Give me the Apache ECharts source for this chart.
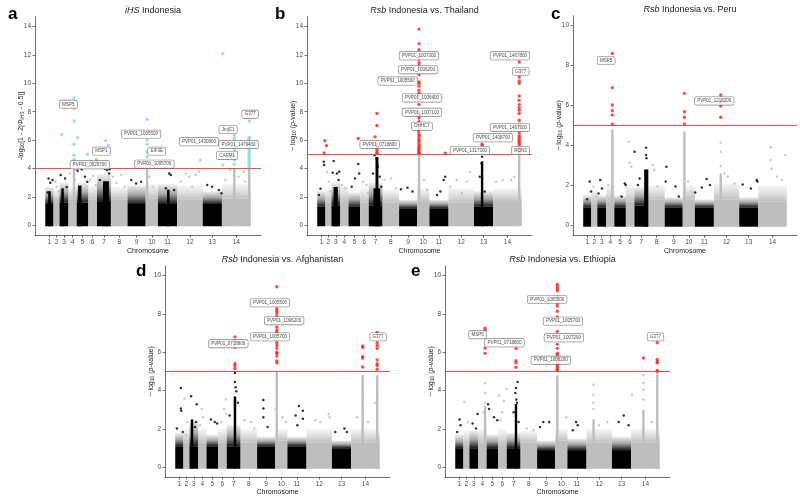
<!DOCTYPE html>
<html><head><meta charset="utf-8">
<script src="https://cdn.jsdelivr.net/npm/echarts@6/dist/echarts.min.js"></script>
<style>html,body{margin:0;padding:0;background:#fff}#c{width:800px;height:497px}</style>
</head><body><div id="c"></div>
<script>
const chromosomes = ['1','2','3','4','5','6','7','8','9','10','11','12','13','14'];
const chromLengths = [0.98,0.71,1.06,0.98,1.38,1.03,1.65,1.97,2.16,1.45,2.28,3.03,2.28,3.42];
const yTicksBig = [0,2,4,6,8,10,12,14];
const yTicksSmall = [0,2,4,6,8,10];

// ---- Panel a : iHS Indonesia ----
const denseA = [1.5,1.7,1.6,1.8,1.6,1.8,1.7,1.8,1.5,1.9,1.5,1.8,1.5,1.9];
const spreadA = [2.7,2.5,3.0,2.7,3.0,2.8,3.6,2.7,2.8,2.9,2.9,2.8,2.4,2.9];
const colsA = [[0.5,0.3,2.4],[2.05,0.3,2.6],[4.1,0.4,2.8],[7.2,0.7,3.1],[14.6,0.3,2.5],[3.41,0.1,4.0],[12.08,0.12,4.0],[22.43,0.12,4.0],[24.2,0.15,4.0]];
const bgA = [[0.39,3.3],[0.86,3.18],[0.59,3.0],[0.27,2.3],[1.18,3.07],[1.37,2.72],[1.57,2.37],[1.84,3.54],[2.35,3.3],[2.55,2.7],[2.94,3.65],[3.53,3.18],[3.65,3.95],[3.84,3.84],[4.31,3.95],[4.71,3.42],[4.98,3.07],[5.29,3.18],[5.69,3.47],[6.0,2.83],[6.47,3.18],[7.06,3.98],[7.33,3.89],[7.57,3.65],[7.65,3.95],[8.04,3.42],[8.43,3.0],[9.02,3.54],[9.41,2.72],[10.2,3.18],[10.78,2.95],[11.37,3.07],[12.35,3.42],[12.75,2.72],[14.7,3.65],[14.9,3.54],[14.31,2.6],[15.29,2.48],[16.08,3.07],[16.67,3.65],[17.06,3.42],[17.84,3.54],[18.24,3.77],[17.45,2.72],[19.22,2.83],[19.8,2.72],[20.59,2.48],[20.9,2.25],[21.37,3.18],[21.96,3.89],[22.94,3.42],[23.73,3.07],[23.53,3.77]];
const sigA = [[1.96,6.39],[3.41,8.97],[3.41,8.22],[3.41,7.35],[3.41,5.71],[3.40,4.94],[3.41,4.64],[3.42,4.3],[3.84,6.16],[4.98,5.01],[6.08,4.64],[7.18,5.95],[7.49,5.64],[12.08,7.47],[12.08,6.0],[12.08,5.71],[12.07,5.18],[12.08,4.82],[12.09,4.43],[12.08,4.15],[18.39,4.59],[21.06,12.08],[21.06,4.24],[22.43,6.35],[22.43,6.11],[22.42,5.8],[22.43,5.53],[22.44,5.34],[22.43,4.9],[22.43,4.6],[22.42,4.3],[24.22,7.35],[24.2,6.18],[24.16,6.05],[24.22,5.9],[24.18,5.78],[24.2,5.62],[24.16,5.5],[24.22,5.33],[24.18,5.2],[24.2,5.05],[24.16,4.9],[24.22,4.78],[24.18,4.62],[24.2,4.5],[24.16,4.35],[24.22,4.2],[24.18,4.05]];
const labelsA = [['MSP5',2.75,8.52],['PVP01_0620700',5.29,4.26],['MSP1',6.67,5.22],['PVP01_1005500',11.37,6.42],['EIF3E',13.22,5.22],['PVP01_1005700',12.94,4.31],['PVP01_1430800',18.24,5.88],['JmjC1',21.69,6.74],['PVP01_1479400',22.94,5.69],['CARM1',21.57,4.92],['G377',24.31,7.82]];

// ---- Panel b : Rsb Indonesia vs. Thailand ----
const denseB = [1.3,1.6,1.4,1.7,1.3,1.6,1.4,1.6,1.2,1.7,1.2,1.6,1.3,1.7];
const spreadB = [2.4,2.6,3.0,2.8,2.3,2.6,3.0,2.5,1.8,2.6,1.8,2.6,2.4,2.6];
const colsB = [[2.2,0.5,2.7],[7.12,0.35,4.8],[7.1,0.8,2.6],[12.13,0.14,5.0],[19.65,0.1,4.5],[24.07,0.15,5.0]];
const bgB = [[0.78,4.47],[0.82,4.24],[0.39,2.58],[0.2,2.13],[1.17,3.77],[1.37,3.07],[1.57,2.37],[1.96,4.52],[1.84,3.7],[2.35,3.65],[2.54,3.18],[2.62,3.77],[2.94,2.83],[3.33,2.6],[4.89,4.31],[5.0,3.65],[4.5,3.3],[4.1,2.72],[5.48,3.07],[5.87,2.83],[6.07,2.25],[6.85,4.94],[7.05,4.7],[7.24,4.12],[7.44,3.42],[6.65,3.65],[7.63,2.72],[8.02,3.18],[8.81,3.3],[9.39,2.6],[9.98,2.53],[10.76,2.65],[11.35,2.37],[12.72,3.18],[13.11,2.48],[15.26,3.42],[15.07,3.18],[14.68,2.37],[14.29,2.13],[15.85,2.72],[16.63,3.18],[18.2,3.77],[17.81,3.07],[17.22,2.25],[19.65,4.82],[19.57,4.36],[19.37,3.42],[19.96,2.37],[21.33,3.07],[22.11,3.18],[23.09,3.18],[23.48,3.42]];
const sigB = [[0.9,5.95],[1.1,5.6],[0.82,5.1],[4.89,6.11],[7.12,7.87],[7.12,7.03],[6.89,6.23],[7.12,5.8],[7.1,5.6],[7.14,5.45],[7.12,5.3],[7.1,5.15],[7.13,5.05],[12.13,13.82],[12.13,12.79],[12.13,12.37],[12.13,11.95],[12.12,11.7],[12.14,11.45],[12.13,11.25],[12.12,11.1],[12.13,10.6],[12.13,10.1],[12.14,10.0],[12.13,9.8],[12.12,9.5],[12.13,9.3],[12.13,9.15],[12.13,8.5],[12.13,8.0],[12.12,7.7],[12.14,7.55],[12.13,7.3],[12.12,7.0],[12.14,6.8],[12.1,6.6],[12.13,6.4],[12.15,6.3],[12.12,6.15],[12.14,6.0],[12.11,5.9],[12.13,5.75],[12.15,5.6],[12.12,5.5],[12.14,5.4],[12.11,5.3],[12.13,5.2],[12.15,5.1],[12.12,5.05],[15.26,5.08],[19.65,5.71],[19.67,5.6],[24.07,11.5],[24.07,10.44],[24.07,10.16],[24.08,10.0],[24.07,9.11],[24.06,8.8],[24.08,8.5],[24.07,8.29],[24.07,8.1],[24.07,7.87],[24.07,7.4],[24.08,7.12],[24.06,6.9],[24.08,6.5],[24.07,6.3],[24.09,6.2],[24.06,6.05],[24.08,5.9],[24.07,5.8],[24.09,5.65],[24.06,5.5],[24.08,5.4],[24.07,5.3],[24.09,5.2],[24.06,5.1]];
const labelsB = [['PVP01_1007300',12.13,11.94],['PVP01_1006200',12.02,10.96],['PVP01_1005500',9.59,10.16],['PVP01_1006400',12.49,8.97],['PVP01_1007100',12.49,7.96],['DHHC7',12.49,6.98],['PVP01_0718800',7.44,5.69],['PVP01_1317300',18.2,5.27],['PVP01_1408700',20.94,6.16],['PVP01_1467800',22.97,11.94],['G377',24.27,10.84],['PVP01_1467300',22.97,6.89],['RON3',24.23,5.27]];

// ---- Panel c : Rsb Indonesia vs. Peru ----
const denseC = [0.9,1.1,0.9,1.2,0.9,1.2,1.0,1.3,0.9,1.3,0.9,1.3,0.9,1.2];
const spreadC = [1.5,1.8,1.5,2.0,1.5,2.0,1.9,2.0,1.4,2.0,1.3,2.1,1.4,2.0];
const colsC = [[3.49,0.12,4.8],[7.55,0.5,2.8],[12.12,0.12,4.7],[16.47,0.12,2.6]];
const bgC = [[0.78,2.19],[0.47,1.3],[0.94,1.69],[1.25,1.94],[1.57,1.44],[2.04,2.27],[2.24,1.85],[1.84,1.6],[3.02,2.02],[3.6,1.94],[4.98,2.1],[5.1,2.02],[4.59,1.44],[5.45,4.19],[5.57,3.14],[6.16,3.69],[5.76,2.94],[7.53,3.89],[7.53,3.52],[7.57,3.36],[6.75,2.35],[6.55,2.02],[8.31,3.02],[8.51,2.77],[8.9,1.94],[9.96,2.94],[9.88,2.19],[11.06,1.94],[11.45,1.44],[12.55,2.19],[12.94,1.69],[14.78,2.32],[14.2,1.9],[13.41,1.64],[15.18,2.02],[16.94,2.6],[17.33,2.44],[16.47,4.14],[16.47,3.69],[16.47,2.97],[18.12,2.1],[19.1,2.05],[20.08,1.85],[20.86,2.19],[20.78,2.27],[22.43,3.91],[22.43,3.27],[22.55,2.85],[24.2,3.52],[23.22,2.44],[23.8,2.27]];
const sigC = [[3.49,8.61],[3.49,6.89],[3.49,6.03],[3.48,5.74],[3.49,5.53],[3.49,5.06],[12.12,6.61],[12.12,5.69],[12.11,5.41],[12.12,5.08],[16.47,6.53],[16.47,6.15],[16.47,5.98],[16.47,5.41]];
const labelsC = [['MSP5',2.75,8.25],['PVP01_1218200',15.69,6.23]];

// ---- Panel d : Rsb Indonesia vs. Afghanistan ----
const denseD = [1.1,1.3,1.1,1.3,1.1,1.3,1.1,1.3,1.1,1.4,1.1,1.3,1.0,1.3];
const spreadD = [1.8,2.0,2.4,2.0,1.7,2.0,2.2,2.0,1.6,2.0,1.6,2.0,1.4,2.0];
const colsD = [[2.0,0.3,2.5],[7.12,0.3,3.7],[12.11,0.12,5.0],[22.34,0.12,4.8],[24.07,0.15,4.8]];
const bgD = [[0.67,4.13],[0.67,3.07],[0.71,2.95],[0.2,2.02],[0.9,1.85],[1.1,3.58],[1.45,2.36],[1.3,1.69],[1.89,3.71],[2.56,3.29],[2.48,2.36],[2.36,2.1],[3.15,3.04],[3.34,2.61],[2.95,2.19],[4.25,2.5],[4.72,2.36],[5.0,2.28],[6.02,3.54],[5.82,3.04],[6.1,2.78],[5.51,2.36],[7.12,4.92],[7.12,4.45],[7.2,4.18],[7.27,3.96],[7.47,3.37],[6.49,2.7],[8.26,2.45],[9.04,2.36],[9.44,2.02],[10.5,3.51],[10.5,3.07],[10.5,2.61],[11.01,2.1],[11.99,3.04],[12.78,2.61],[13.17,2.36],[14.75,3.2],[15.22,2.95],[15.22,2.53],[14.35,2.7],[14.55,2.19],[16.71,2.45],[18.29,2.78],[18.4,2.61],[17.3,2.36],[19.07,1.85],[20.17,2.02],[20.45,1.85],[21.63,2.61],[22.34,3.71],[22.34,3.04],[23.0,2.36],[24.07,3.88],[23.79,3.37]];
const sigD = [[7.12,6.8],[7.12,6.6],[7.13,6.25],[7.12,5.4],[7.11,5.31],[7.12,5.15],[12.11,9.41],[12.11,8.26],[12.11,8.15],[12.12,8.05],[12.11,7.9],[12.11,7.3],[12.12,7.15],[12.1,7.05],[12.11,6.49],[12.12,6.35],[12.11,6.2],[12.1,6.0],[12.11,5.94],[12.12,5.8],[12.11,5.55],[12.12,5.45],[22.34,6.31],[22.35,6.25],[22.34,5.77],[22.33,5.7],[22.34,5.23],[24.07,7.03],[24.07,6.49],[24.08,6.35],[24.07,6.19],[24.07,5.6],[24.06,5.4],[24.08,5.31],[24.07,5.11]];
const labelsD = [['PVP01_0718800',6.33,6.44],['PVP01_1005500',11.29,8.57],['PVP01_1006200',12.98,7.64],['PVP01_1005700',11.29,6.8],['G377',24.18,6.8]];

// ---- Panel e : Rsb Indonesia vs. Ethiopia ----
const denseE = [1.0,1.2,1.0,1.3,1.0,1.2,1.0,1.3,0.9,1.4,0.9,1.3,0.9,1.3];
const spreadE = [1.7,1.9,1.9,2.0,1.7,2.0,1.8,1.9,1.4,2.0,1.5,2.0,1.6,2.0];
const colsE = [[3.56,0.12,3.2],[7.24,0.25,3.3],[12.17,0.12,4.8],[16.48,0.12,2.5],[22.43,0.12,3.0],[24.08,0.15,4.9]];
const bgE = [[0.51,2.5],[0.63,2.19],[0.23,1.85],[1.1,3.41],[1.49,2.36],[2.66,2.78],[2.07,2.28],[2.47,2.02],[3.56,4.38],[3.56,3.88],[3.56,3.37],[3.37,2.87],[5.21,3.74],[3.91,3.29],[4.03,3.04],[4.62,2.61],[5.01,2.45],[6.11,4.1],[5.79,3.46],[5.6,2.87],[5.4,2.45],[7.44,4.45],[7.24,4.13],[7.16,3.88],[7.28,3.54],[7.36,3.37],[6.97,2.87],[7.55,2.36],[8.53,2.02],[9.32,1.94],[10.49,2.36],[11.19,2.36],[10.1,2.1],[13.23,2.61],[14.4,2.36],[14.6,2.19],[14.01,1.94],[16.48,4.3],[16.48,3.79],[16.48,3.37],[16.48,3.04],[17.14,2.19],[18.12,2.36],[20.08,2.7],[19.49,2.36],[20.67,2.19],[21.06,3.79],[22.43,4.8],[22.43,4.4],[22.43,4.05],[22.43,3.54],[23.41,2.36]];
const sigE = [[3.56,7.25],[3.56,7.15],[3.56,6.21],[3.56,5.94],[7.24,6.19],[7.24,5.56],[7.25,5.45],[7.24,5.21],[12.17,9.53],[12.17,9.42],[12.17,9.31],[12.18,9.2],[12.17,8.9],[12.17,8.52],[12.16,8.4],[12.17,8.13],[12.17,7.84],[12.17,7.08],[12.17,6.41],[12.16,6.2],[12.17,5.95],[12.18,5.85],[12.17,5.7],[12.16,5.55],[12.17,5.4],[12.18,5.3],[12.17,5.2],[12.16,5.1],[12.17,5.05],[22.43,5.7],[24.08,6.49],[24.08,5.62],[24.09,5.5],[24.07,5.45],[24.08,5.05],[24.09,5.0]];
const labelsE = [['MSP5',2.66,6.91],['PVP01_0718800',5.87,6.49],['PVP01_1005500',10.96,8.75],['PVP01_1005700',12.84,7.62],['PVP01_1007200',12.95,6.75],['PVP01_1006200',11.39,5.58],['G377',23.87,6.8]];

// ---------- derived genome layout ----------
const offsets = []; let acc = 0;
chromLengths.forEach(l => { offsets.push(acc); acc += l; });
const genomeLen = acc;
const centers = chromLengths.map((l, i) => offsets[i] + l / 2);
const xPad = genomeLen * 0.05;
function chromOf(x) { for (let i = offsets.length - 1; i >= 0; i--) if (x >= offsets[i]) return i; return 0; }
const COLS = ['#000000', '#bebebe'];
const FADE = [
  new echarts.graphic.LinearGradient(0, 0, 0, 1, [{ offset:0, color:'rgba(0,0,0,0.06)' }, { offset:0.5, color:'rgba(0,0,0,0.35)' }, { offset:1, color:'rgba(0,0,0,0.9)' }]),
  new echarts.graphic.LinearGradient(0, 0, 0, 1, [{ offset:0, color:'rgba(190,190,190,0.12)' }, { offset:0.5, color:'rgba(190,190,190,0.5)' }, { offset:1, color:'rgba(190,190,190,0.95)' }])
];
const FONT = '"Liberation Sans", Arial, Helvetica, sans-serif';

const panels = [
  { letter:'a', title:'{it|iHS} Indonesia', dense:denseA, spread:spreadA, cols:colsA, bg:bgA, sig:sigA, labels:labelsA, thr:4, sigColor:'#7fd7e8', yMin:-0.7, yMax:14.7, ticks:yTicksBig,
    yName:'-log{sub|10}[1 - 2|Φ{sub|iHS} - 0.5|]', grid:{left:35, top:16.6, width:226, height:218.6}, letterPos:[3,1] },
  { letter:'b', title:'{it|Rsb} Indonesia vs. Thailand', dense:denseB, spread:spreadB, cols:colsB, bg:bgB, sig:sigB, labels:labelsB, thr:5, sigColor:'#ff2020', yMin:-0.7, yMax:14.7, ticks:yTicksBig,
    yName:'− log{sub|10} ({it|p}-value)', grid:{left:307, top:16.6, width:225, height:218.6}, letterPos:[270,1] },
  { letter:'c', title:'{it|Rsb} Indonesia vs. Peru', dense:denseC, spread:spreadC, cols:colsC, bg:bgC, sig:sigC, labels:labelsC, thr:5, sigColor:'#ff2020', yMin:-0.5, yMax:10.5, ticks:yTicksSmall,
    yName:'− log{sub|10} ({it|p}-value)', grid:{left:573, top:15.7, width:224, height:219.6}, letterPos:[546,1] },
  { letter:'d', title:'{it|Rsb} Indonesia vs. Afghanistan', dense:denseD, spread:spreadD, cols:colsD, bg:bgD, sig:sigD, labels:labelsD, thr:5, sigColor:'#ff2020', yMin:-0.5, yMax:10.5, ticks:yTicksSmall,
    yName:'− log{sub|10} ({it|p}-value)', grid:{left:165, top:265.8, width:225, height:217.4}, letterPos:[131,258] },
  { letter:'e', title:'{it|Rsb} Indonesia vs. Ethiopia', dense:denseE, spread:spreadE, cols:colsE, bg:bgE, sig:sigE, labels:labelsE, thr:5, sigColor:'#ff2020', yMin:-0.5, yMax:10.5, ticks:yTicksSmall,
    yName:'− log{sub|10} ({it|p}-value)', grid:{left:445, top:265.8, width:225, height:217.4}, letterPos:[406,258] }
];

const option = { animation:false, backgroundColor:'#ffffff', textStyle:{fontFamily:FONT}, title:[], grid:[], xAxis:[], yAxis:[], series:[] };

panels.forEach((p, i) => {
  const g = p.grid;
  option.grid.push({ left:g.left, top:g.top, width:g.width, height:g.height, containLabel:false });
  option.title.push({ text:p.title, left:g.left + g.width/2, top:g.top - 15.5, textAlign:'center',
    textStyle:{ fontSize:9, fontWeight:'normal', color:'#1a1a1a', fontFamily:FONT, rich:{ it:{ fontStyle:'italic', fontSize:9, color:'#1a1a1a', fontFamily:FONT } } } });
  option.title.push({ text:p.letter, left:p.letterPos[0], top:p.letterPos[1], textStyle:{ fontSize:17, fontWeight:'bold', color:'#000', fontFamily:FONT } });
  option.xAxis.push({ gridIndex:i, type:'value', min:-xPad, max:genomeLen + xPad,
    axisLine:{ show:true, onZero:false, lineStyle:{ color:'#333', width:0.7 } },
    axisTick:{ show:true, customValues:centers, length:2.5, lineStyle:{ color:'#333', width:0.7 } },
    axisLabel:{ show:true, customValues:centers, fontSize:6.5, color:'#4d4d4d', margin:3.5, hideOverlap:false,
      formatter:(v) => { let k = 0, best = 1e9; centers.forEach((c, j) => { if (Math.abs(c - v) < best) { best = Math.abs(c - v); k = j; } }); return chromosomes[k]; } },
    splitLine:{ show:false },
    name:'Chromosome', nameLocation:'middle', nameGap:12, nameMoveOverlap:false, nameTextStyle:{ fontSize:7, color:'#1a1a1a' } });
  option.yAxis.push({ gridIndex:i, type:'value', min:p.yMin, max:p.yMax,
    axisLine:{ show:true, onZero:false, lineStyle:{ color:'#333', width:0.7 } },
    axisTick:{ show:true, customValues:p.ticks, length:2.5, lineStyle:{ color:'#333', width:0.7 } },
    axisLabel:{ show:true, customValues:p.ticks, fontSize:6.5, color:'#4d4d4d', margin:4 },
    splitLine:{ show:false },
    name:p.yName, nameLocation:'middle', nameGap:10, nameMoveOverlap:false, nameRotate:90,
    nameTextStyle:{ fontSize:7, color:'#1a1a1a', rich:{ sub:{ fontSize:5, verticalAlign:'bottom', color:'#1a1a1a' }, it:{ fontStyle:'italic', fontSize:7, color:'#1a1a1a' } } } });

  // rect list: [x0, x1, yBottom, yTop, colourIndex, faded]
  const rects = [];
  p.dense.forEach((h, c) => {
    rects.push([offsets[c], offsets[c] + chromLengths[c], h, p.spread[c], c % 2, 1]);
    rects.push([offsets[c], offsets[c] + chromLengths[c], -0.07, h, c % 2, 0]);
  });
  p.cols.forEach(cl => rects.push([cl[0] - cl[1]/2, cl[0] + cl[1]/2, -0.07, cl[2], chromOf(cl[0]) % 2, 0]));
  option.series.push({ type:'custom', xAxisIndex:i, yAxisIndex:i, silent:true, z:1, data:rects.map((r, k) => [k]),
    renderItem:(params, api) => {
      const r = rects[params.dataIndex];
      const p0 = api.coord([r[0], r[3]]); const p1 = api.coord([r[1], r[2]]);
      let w = p1[0] - p0[0], x = p0[0];
      if (w < 2.4) { x = (p0[0] + p1[0]) / 2 - 1.2; w = 2.4; }
      return { type:'rect', shape:{ x:x, y:p0[1], width:w, height:p1[1] - p0[1] }, style:{ fill: r[5] ? FADE[r[4]] : COLS[r[4]] } };
    } });
  option.series.push({ type:'scatter', xAxisIndex:i, yAxisIndex:i, silent:true, z:2, symbol:'circle', symbolSize:2.5,
    data:p.bg.map(pt => ({ value:pt, itemStyle:{ color:COLS[chromOf(pt[0]) % 2] } })),
    markLine:{ silent:true, symbol:'none', label:{ show:false }, lineStyle:{ color:'#ff4a4a', width:1, type:'solid' }, data:[{ yAxis:p.thr }] } });
  option.series.push({ type:'scatter', xAxisIndex:i, yAxisIndex:i, silent:true, z:3, symbol:'circle', symbolSize:3.4,
    itemStyle:{ color:p.sigColor }, data:p.sig });
  option.series.push({ type:'scatter', xAxisIndex:i, yAxisIndex:i, silent:true, z:5, symbolSize:0,
    data:p.labels.map(l => ({ name:l[0], value:[l[1], l[2]] })),
    label:{ show:true, position:'inside', formatter:'{b}', fontSize:4.5, color:'#111', fontFamily:FONT,
      backgroundColor:'#ffffff', borderColor:'#666', borderWidth:0.6, borderRadius:1.5, padding:[1.5,2.5,1.2,2.5] } });
});

const chart = echarts.init(document.getElementById('c'), null, { renderer:'canvas' });
chart.setOption(option);
</script></body></html>
